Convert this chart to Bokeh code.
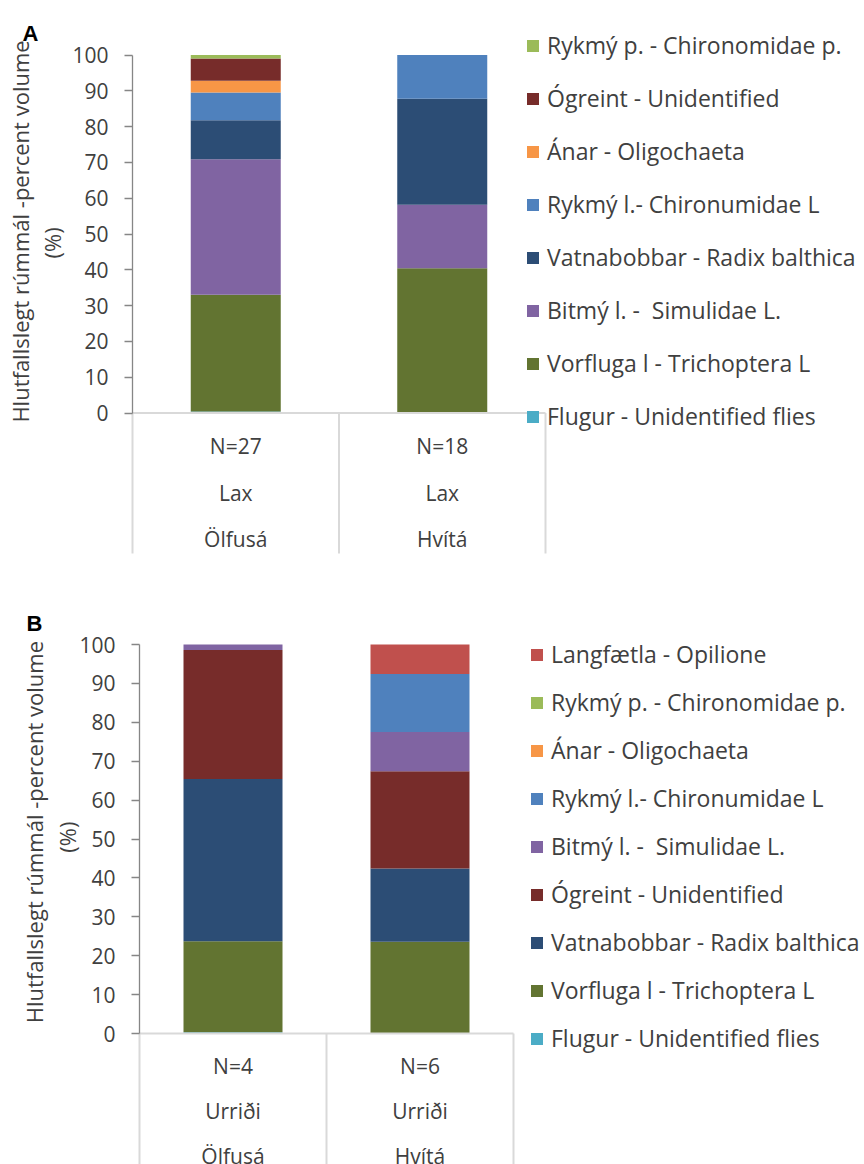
import math
from bokeh.plotting import figure
from bokeh.models import (ColumnDataSource, Range1d, FixedTicker, Legend, LegendItem, Label)
from bokeh.layouts import column
from bokeh.core.properties import value
from bokeh.embed import file_html
from bokeh.resources import INLINE

# ---------------- data ----------------
FLUGUR = "Flugur - Unidentified flies"
VORFLUGA = "Vorfluga l - Trichoptera L"
BITMY = "Bitmý l. -  Simulidae L."
VATNA = "Vatnabobbar - Radix balthica"
RYKL = "Rykmý l.- Chironumidae L"
ANAR = "Ánar - Oligochaeta"
OGREINT = "Ógreint - Unidentified"
RYKP = "Rykmý p. - Chironomidae p."
LANG = "Langfætla - Opilione"

colors = {
    FLUGUR: "#4BACC6",
    VORFLUGA: "#627431",
    BITMY: "#8064A2",
    VATNA: "#2C4D75",
    RYKL: "#4F81BD",
    ANAR: "#F79646",
    OGREINT: "#772C2A",
    RYKP: "#9BBB59",
    LANG: "#C0504D",
}

# Chart A
a_n = ["N=27", "N=18"]
a_fish = ["Lax", "Lax"]
a_river = ["Ölfusá", "Hvítá"]
a_order = [FLUGUR, VORFLUGA, BITMY, VATNA, RYKL, ANAR, OGREINT, RYKP]  # bottom -> top
a_flugur = [0.4, 0.0]
a_vorfluga = [32.6, 40.4]
a_bitmy = [37.9, 17.8]
a_vatna = [10.9, 29.6]
a_rykl = [7.7, 12.2]
a_anar = [3.3, 0.0]
a_ogreint = [6.2, 0.0]
a_rykp = [1.0, 0.0]
a_values = [a_flugur, a_vorfluga, a_bitmy, a_vatna, a_rykl, a_anar, a_ogreint, a_rykp]

# Chart B
b_n = ["N=4", "N=6"]
b_fish = ["Urriði", "Urriði"]
b_river = ["Ölfusá", "Hvítá"]
b_order = [FLUGUR, VORFLUGA, VATNA, OGREINT, BITMY, RYKL, ANAR, RYKP, LANG]  # bottom -> top
b_flugur = [0.3, 0.0]
b_vorfluga = [23.4, 23.6]
b_vatna = [41.7, 18.8]
b_ogreint = [33.2, 25.0]
b_bitmy = [1.4, 10.1]
b_rykl = [0.0, 14.9]
b_anar = [0.0, 0.0]
b_rykp = [0.0, 0.0]
b_lang = [0.0, 7.6]
b_values = [b_flugur, b_vorfluga, b_vatna, b_ogreint, b_bitmy, b_rykl, b_anar, b_rykp, b_lang]

y_ticks = list(range(0, 101, 10))
y_label_1 = "Hlutfallslegt rúmmál -percent  volume"
y_label_2 = "(%)"

FONT = "Open Sans"
TEXT_COLOR = "#404040"
W = 864
PAGE_LEFT = 0
LEG_FONT_PX = 23
ITEM_H = 32


def make_chart(letter, n_lab, fish_lab, river_lab, order, vals, cfg):
    ncat = len(n_lab)
    xs = [i + 0.5 for i in range(ncat)]
    ppx = cfg["px_per_cat"]
    ppu = cfg["px_per_unit"]
    x0p = cfg["axis_px"]          # page x of category origin
    y0p = cfg["zero_px"]          # page y of value 0
    top = cfg["top_px"]
    h = cfg["height"]
    X = lambda px: (px - x0p) / ppx
    Y = lambda py: (y0p - py) / ppu

    p = figure(width=W, height=h, output_backend="svg", toolbar_location=None,
               x_range=Range1d(X(PAGE_LEFT), X(PAGE_LEFT + W)),
               y_range=Range1d(Y(top + h), Y(top)),
               x_axis_location=None, min_border_left=0, min_border_right=0,
               min_border_top=0, min_border_bottom=0, tools="")
    p.outline_line_color = None
    p.xgrid.visible = False
    p.ygrid.visible = False

    data = {"x": xs}
    for name, v in zip(order, vals):
        data[name] = v
    src = ColumnDataSource(data)
    rends = p.vbar_stack(order, x="x", width=cfg["bar_px"] / ppx, source=src,
                         color=[colors[n] for n in order], line_color=None)

    # category table
    p.segment(x0=[0], y0=[0], x1=[ncat], y1=[0], line_color="#D9D9D9", line_width=2)
    bx = list(range(ncat + 1))
    p.segment(x0=bx, y0=[0] * len(bx), x1=bx, y1=[Y(cfg["table_bottom_px"])] * len(bx),
              line_color="#D9D9D9", line_width=2)
    for row_px, labs in zip(cfg["rows_px"], [n_lab, fish_lab, river_lab]):
        p.text(x=xs, y=[Y(row_px)] * ncat, text=labs, text_align="center", text_baseline="middle",
               text_font=value(FONT), text_font_size="21px", text_color=TEXT_COLOR)

    # y axis, drawn at x = 0
    ax = p.yaxis[0]
    ax.fixed_location = 0
    ax.bounds = (0, 100)
    ax.ticker = FixedTicker(ticks=y_ticks)
    ax.axis_line_color = "#868686"
    ax.axis_line_width = 1.3
    ax.major_tick_line_color = "#868686"
    ax.major_tick_line_width = 1.3
    ax.major_tick_out = 8
    ax.major_tick_in = 0
    ax.minor_tick_out = 0
    ax.minor_tick_in = 0
    ax.major_label_standoff = 16
    ax.major_label_text_font = FONT
    ax.major_label_text_font_size = "21px"
    ax.major_label_text_color = TEXT_COLOR

    p.add_layout(Label(x=X(cfg["lab1_px"]), y=cfg["lab1_y"], text=y_label_1, angle=math.pi / 2,
                       text_align="center", text_baseline="middle", text_font=FONT,
                       text_font_size="22px", text_color=TEXT_COLOR))
    p.add_layout(Label(x=X(cfg["lab2_px"]), y=cfg["lab2_y"], text=y_label_2, angle=math.pi / 2,
                       text_align="center", text_baseline="middle", text_font=FONT,
                       text_font_size="22px", text_color=TEXT_COLOR))
    p.add_layout(Label(x=X(cfg["letter_px"][0]), y=Y(cfg["letter_px"][1]), text=letter,
                       text_align="left", text_baseline="alphabetic", text_font="Liberation Sans",
                       text_font_style="bold", text_font_size="22px", text_color="black"))

    items = [LegendItem(label=name, renderers=[r]) for name, r in zip(order, rends)]
    items = items[::-1]
    lx = int(round(cfg["legend_px"][0] - PAGE_LEFT))
    ly = int(round((top + h) - (cfg["legend_px"][1] + ITEM_H / 2)))
    leg = Legend(items=items, location=(lx, ly), padding=0, margin=0,
                 spacing=cfg["legend_spacing"], glyph_width=15, glyph_height=15,
                 label_standoff=7, label_text_font=FONT,
                 label_text_font_size=f"{LEG_FONT_PX}px",
                 label_text_color=TEXT_COLOR, border_line_color=None,
                 background_fill_alpha=0, label_height=20)
    p.add_layout(leg)
    return p


# layout configs (pixel positions)
cfg_a = dict(height=588, top_px=0, axis_px=132, zero_px=412.5,
             px_per_cat=206.5, px_per_unit=(412.5 - 54.5) / 100.0, bar_px=90,
             table_bottom_px=553, rows_px=[445, 492, 538],
             lab1_px=19.5, lab1_y=51.5, lab2_px=51, lab2_y=47.5,
             letter_px=(22, 33.3),
             legend_px=(525, 416.5), legend_spacing=21)

cfg_b = dict(height=576, top_px=588, axis_px=139, zero_px=1033,
             px_per_cat=187.0, px_per_unit=(1033 - 644) / 100.0, bar_px=99,
             table_bottom_px=1170, rows_px=[1065, 1110, 1155],
             lab1_px=33.5, lab1_y=52.5, lab2_px=66, lab2_y=50.5,
             letter_px=(26, 623.3),
             legend_px=(529, 1038), legend_spacing=16)

pA = make_chart("A", a_n, a_fish, a_river, a_order, a_values, cfg_a)
pB = make_chart("B", b_n, b_fish, b_river, b_order, b_values, cfg_b)

layout = column(pA, pB, spacing=0)
open("out.html", "w").write(file_html(layout, INLINE))
